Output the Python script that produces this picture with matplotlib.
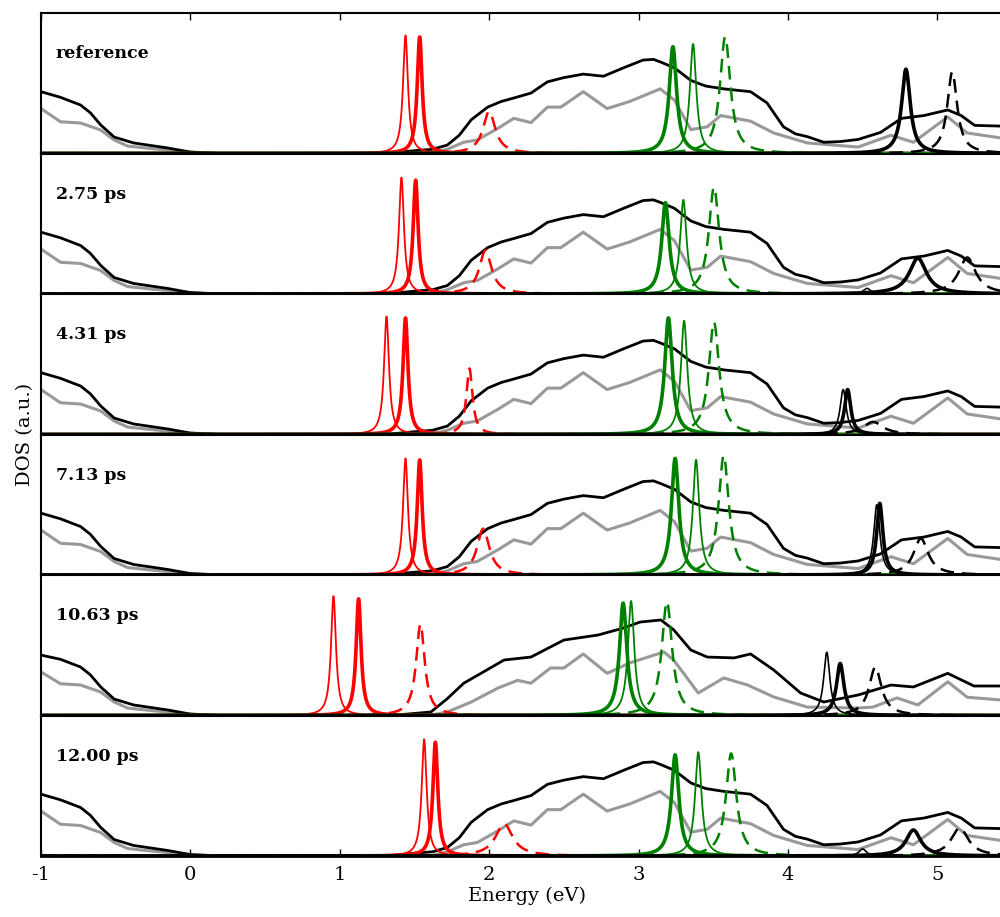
import numpy as np
import matplotlib
matplotlib.use("Agg")
import matplotlib.pyplot as plt

plt.rcParams['font.family'] = ['DejaVu Serif']

panel_labels = ["reference", "2.75 ps", "4.31 ps", "7.13 ps", "10.63 ps", "12.00 ps"]

# Total DOS (black) and partial DOS (gray)
tot_E = [-1.0, -0.87, -0.735, -0.67, -0.60, -0.51, -0.38, -0.15, 0.0, 0.2, 1.3, 1.5, 1.62,
         1.72, 1.80, 1.88, 1.99, 2.08, 2.165, 2.28, 2.39, 2.50, 2.63, 2.765, 2.90, 3.03, 3.10,
         3.15, 3.24, 3.35, 3.45, 3.57, 3.75, 3.86, 3.97, 4.05, 4.13, 4.24, 4.35, 4.47, 4.62,
         4.76, 4.91, 5.07, 5.16, 5.25, 5.43, 5.5]
tot_v = [0.44, 0.40, 0.345, 0.29, 0.203, 0.117, 0.075, 0.039, 0.01, 0.0, 0.0, 0.02, 0.03,
         0.06, 0.13, 0.24, 0.33, 0.37, 0.395, 0.43, 0.51, 0.54, 0.565, 0.55, 0.61, 0.665, 0.67,
         0.65, 0.61, 0.52, 0.48, 0.46, 0.44, 0.36, 0.19, 0.14, 0.12, 0.08, 0.085, 0.10, 0.15,
         0.25, 0.27, 0.31, 0.27, 0.20, 0.195, 0.195]
gray_E = [-1.0, -0.87, -0.735, -0.60, -0.51, -0.42, -0.26, 0.0, 0.2, 1.6, 1.72, 1.83, 1.92,
          2.06, 2.165, 2.28, 2.39, 2.48, 2.63, 2.79, 2.94, 3.145, 3.24, 3.35, 3.46, 3.55, 3.75,
          3.905, 4.13, 4.47, 4.69, 4.84, 5.07, 5.20, 5.43, 5.5]
gray_v = [0.32, 0.226, 0.217, 0.167, 0.096, 0.053, 0.035, 0.01, 0.0, 0.0, 0.03, 0.08, 0.096,
          0.18, 0.25, 0.22, 0.33, 0.33, 0.44, 0.32, 0.37, 0.46, 0.38, 0.17, 0.19, 0.27, 0.23,
          0.146, 0.075, 0.046, 0.13, 0.08, 0.26, 0.146, 0.11, 0.11]

# 10.63 ps panel total / partial DOS
tot5_E = [-1.0, -0.87, -0.735, -0.67, -0.60, -0.51, -0.38, -0.15, 0.0, 0.2, 1.3, 1.45, 1.61,
          1.72, 1.83, 1.945, 2.10, 2.28, 2.50, 2.73, 2.90, 3.01, 3.15, 3.235, 3.35, 3.46, 3.64,
          3.75, 3.905, 4.085, 4.24, 4.47, 4.69, 4.84, 5.07, 5.245, 5.43, 5.5]
tot5_v = [0.43, 0.40, 0.345, 0.29, 0.203, 0.117, 0.075, 0.039, 0.01, 0.0, 0.0, 0.01, 0.025,
          0.12, 0.23, 0.30, 0.395, 0.416, 0.537, 0.573, 0.623, 0.665, 0.68, 0.61, 0.466, 0.416,
          0.41, 0.438, 0.324, 0.16, 0.096, 0.146, 0.217, 0.203, 0.30, 0.21, 0.21, 0.21]
gray5_E = [-1.0, -0.87, -0.735, -0.60, -0.51, -0.42, -0.26, 0.0, 0.2, 1.6, 1.72, 1.88, 2.06,
           2.19, 2.28, 2.41, 2.50, 2.63, 2.79, 2.94, 3.17, 3.235, 3.40, 3.57, 3.73, 3.905, 4.13,
           4.47, 4.57, 4.73, 4.87, 5.07, 5.20, 5.43, 5.5]
gray5_v = [0.31, 0.226, 0.217, 0.167, 0.096, 0.053, 0.035, 0.01, 0.0, 0.0, 0.025, 0.096, 0.196,
           0.25, 0.23, 0.338, 0.338, 0.438, 0.30, 0.374, 0.452, 0.395, 0.16, 0.267, 0.217, 0.132,
           0.06, 0.053, 0.06, 0.125, 0.075, 0.24, 0.13, 0.11, 0.11]

# Sharp defect-state peaks: centre (eV), height, half width (eV), per panel
red_thin_E = [1.44, 1.413, 1.313, 1.44, 0.958, 1.565]
red_thin_h = [0.84, 0.83, 0.84, 0.83, 0.85, 0.83]
red_thick_E = [1.535, 1.508, 1.44, 1.535, 1.126, 1.64]
red_thick_h = [0.83, 0.81, 0.83, 0.82, 0.83, 0.81]
red_dash_E = [2.0, 1.975, 1.868, 1.96, 1.54, 2.10]
red_dash_h = [0.30, 0.31, 0.47, 0.33, 0.65, 0.23]
red_dash_w = [0.05, 0.05, 0.025, 0.05, 0.035, 0.07]

green_thick_E = [3.23, 3.18, 3.20, 3.245, 2.897, 3.245]
green_thick_h = [0.76, 0.65, 0.83, 0.83, 0.80, 0.72]
green_thin_E = [3.365, 3.30, 3.305, 3.385, 2.95, 3.40]
green_thin_h = [0.78, 0.67, 0.81, 0.82, 0.815, 0.74]
green_dash_E = [3.58, 3.505, 3.505, 3.57, 3.19, 3.62]
green_dash_h = [0.83, 0.76, 0.80, 0.85, 0.81, 0.73]

black_thick_E = [4.79, 4.87, 4.40, 4.615, 4.35, 4.84]
black_thick_h = [0.60, 0.255, 0.32, 0.51, 0.37, 0.185]
black_thick_w = [0.035, 0.07, 0.025, 0.025, 0.03, 0.06]
black_thin_E = [4.79, 4.53, 4.37, 4.595, 4.26, 4.50]
black_thin_h = [0.58, 0.04, 0.32, 0.50, 0.45, 0.05]
black_thin_w = [0.035, 0.03, 0.025, 0.025, 0.025, 0.03]
black_dash_E = [5.10, 5.20, 4.57, 4.89, 4.585, 5.15]
black_dash_h = [0.58, 0.26, 0.09, 0.26, 0.345, 0.20]
black_dash_w = [0.04, 0.07, 0.08, 0.06, 0.05, 0.07]

red_w = 0.02
green_thick_w = 0.03
green_thin_w = 0.026
green_dash_w = 0.042

x_ticks = [-1, 0, 1, 2, 3, 4, 5]
x_ticklabels = ["-1", "0", "1", "2", "3", "4", "5"]


def lorentz(x, c, h, w):
    return h * w ** 2 / ((x - c) ** 2 + w ** 2)


grid = np.linspace(-1.0, 5.5, 4000)

fig = plt.figure(figsize=(10.0, 9.17), dpi=100)
left, right = 0.041, 1.012
top, bottom = 1 - 13 / 917, 1 - 856 / 917
n = len(panel_labels)
ph = (top - bottom) / n

dash = (5.5, 3.2)
GREEN = '#008000'

for i in range(n):
    ax = fig.add_axes([left, top - (i + 1) * ph, right - left, ph])
    if i == 4:
        tE, tv, gE, gv = tot5_E, tot5_v, gray5_E, gray5_v
    else:
        tE, tv, gE, gv = tot_E, tot_v, gray_E, gray_v

    ax.plot(gE, gv, color='#999999', lw=2.2, zorder=2)
    ax.plot(tE, tv, color='black', lw=2.0, zorder=3)

    ax.plot(grid, lorentz(grid, red_dash_E[i], red_dash_h[i], red_dash_w[i]),
            color='red', lw=1.8, dashes=dash, zorder=4)
    ax.plot(grid, lorentz(grid, red_thin_E[i], red_thin_h[i], red_w),
            color='red', lw=1.3, zorder=4)
    ax.plot(grid, lorentz(grid, red_thick_E[i], red_thick_h[i], red_w),
            color='red', lw=2.6, zorder=4)

    ax.plot(grid, lorentz(grid, green_dash_E[i], green_dash_h[i], green_dash_w),
            color=GREEN, lw=1.8, dashes=dash, zorder=4)
    ax.plot(grid, lorentz(grid, green_thick_E[i], green_thick_h[i], green_thick_w),
            color=GREEN, lw=2.6, zorder=4)
    ax.plot(grid, lorentz(grid, green_thin_E[i], green_thin_h[i], green_thin_w),
            color=GREEN, lw=1.3, zorder=4)

    ax.plot(grid, lorentz(grid, black_dash_E[i], black_dash_h[i], black_dash_w[i]),
            color='black', lw=1.8, dashes=dash, zorder=4)
    ax.plot(grid, lorentz(grid, black_thin_E[i], black_thin_h[i], black_thin_w[i]),
            color='black', lw=1.2, zorder=4)
    ax.plot(grid, lorentz(grid, black_thick_E[i], black_thick_h[i], black_thick_w[i]),
            color='black', lw=2.6, zorder=5)

    ax.set_xlim(-1.0, 5.5)
    ax.set_ylim(0.0, 1.0)
    ax.set_yticks([])
    ax.set_xticks(x_ticks)
    for s in ax.spines.values():
        s.set_linewidth(1.5)
    ax.spines['bottom'].set_linewidth(2.0)

    if i == 0:
        ax.tick_params(axis='x', which='both', direction='in', top=True, bottom=False,
                       labeltop=False, labelbottom=False, length=5, width=1.0)
    elif i == n - 1:
        ax.tick_params(axis='x', which='both', direction='in', top=False, bottom=True,
                       labelbottom=True, length=5, width=1.0, pad=7, labelsize=14)
        ax.set_xticklabels(x_ticklabels)
        ax.set_xlabel("Energy (eV)", fontsize=14, labelpad=2)
    else:
        ax.tick_params(axis='x', which='both', length=0, labelbottom=False)

    ax.text(0.015, 0.71, panel_labels[i], transform=ax.transAxes, fontsize=12.5,
            fontweight='bold', ha='left', va='center')

fig.text(0.025, 1 - 434 / 917, "DOS (a.u.)", rotation=90, fontsize=14,
         ha='center', va='center')

fig.savefig("out.png", dpi=100)
